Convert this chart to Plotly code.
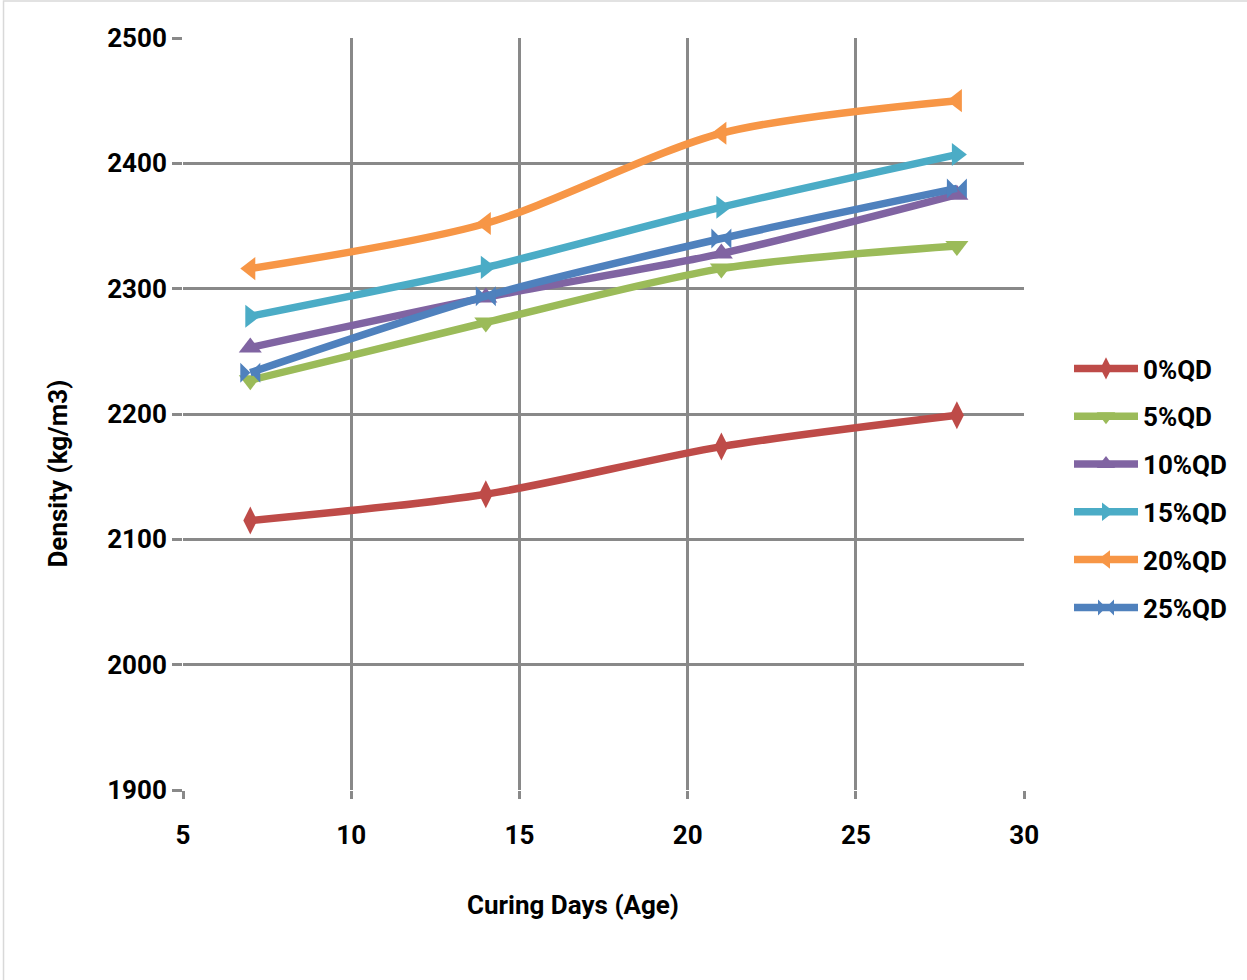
import plotly.graph_objects as go

days = [7, 14, 21, 28]
series_names = ["0%QD", "5%QD", "10%QD", "15%QD", "20%QD", "25%QD"]
qd0 = [2115, 2136, 2174, 2199]
qd5 = [2227, 2273, 2316, 2334]
qd10 = [2253, 2293, 2328, 2375]
qd15 = [2278, 2317, 2365, 2407]
qd20 = [2316, 2352, 2424, 2450]
qd25 = [2233, 2294, 2340, 2380]
x_ticks = [5, 10, 15, 20, 25, 30]
y_ticks = [1900, 2000, 2100, 2200, 2300, 2400, 2500]
x_title = "Curing Days (Age)"
y_title = "Density (kg/m3)"

values = [qd0, qd5, qd10, qd15, qd20, qd25]
colors = ["#BE4B48", "#9BBB59", "#8064A2", "#4BACC6", "#F79646", "#4F81BD"]
symbols = ["diamond-tall", "triangle-down", "triangle-up", "triangle-right", "triangle-left", "bowtie"]

FONT = "Roboto, DejaVu Sans, sans-serif"
FS = 26
tfont = dict(family=FONT, size=FS, color="black", weight="bold")

fig = go.Figure()
for name, vals, c, s in zip(series_names, values, colors, symbols):
    fig.add_trace(go.Scatter(
        x=days, y=vals, name=name, legendgroup=name, mode="lines+markers",
        line=dict(color=c, width=7.5, shape="spline", smoothing=0.8),
        marker=dict(symbol=s, size=20, color=c),
    ))

KX = 1.0145  # horizontal compensation for the capture
W, H = 1265, 980
L, T, B = 183, 38, 190
PLOT_R = 1036
paper_w = W - L          # right margin 0, axis domain limited instead
ph = H - T - B
dom_end = (PLOT_R - L) / paper_w


def px_x(p):
    return (p * KX - L) / paper_w


def px_y(p):
    return (H - B - p) / ph


gray = "#898989"
fig.update_layout(
    width=W, height=H, autosize=False,
    margin=dict(l=L, r=0, t=T, b=B),
    paper_bgcolor="white", plot_bgcolor="white",
    font=tfont,
    showlegend=True,
    legend=dict(x=px_x(1066), y=px_y(488), xanchor="left", yanchor="middle",
                font=tfont, itemwidth=64, tracegroupgap=11, traceorder="grouped",
                bgcolor="rgba(0,0,0,0)"),
    xaxis=dict(domain=[0, dom_end], range=[5, 30], tickvals=x_ticks, showgrid=True,
               gridcolor=gray, gridwidth=2.5,
               zeroline=False, showline=False, ticks="outside", ticklen=8, tickwidth=2.5, tickcolor=gray,
               ticklabelstandoff=14, tickfont=tfont),
    yaxis=dict(range=[1900, 2500], tickvals=y_ticks, showgrid=True, gridcolor=gray, gridwidth=2.5,
               zeroline=False, showline=False, ticks="outside", ticklen=10, tickwidth=2.5, tickcolor=gray,
               tickfont=tfont),
    annotations=[
        dict(text=x_title, xref="paper", yref="paper", x=px_x(570), y=px_y(905),
             xanchor="center", yanchor="middle", showarrow=False, font=tfont),
        dict(text=y_title, xref="paper", yref="paper", x=px_x(55), y=px_y(474),
             xanchor="center", yanchor="middle", showarrow=False, textangle=-90, font=tfont),
    ],
    shapes=[dict(type="rect", xref="paper", yref="paper",
                 x0=(1 - L) / paper_w, x1=px_x(W + 40), y0=px_y(H + 20), y1=px_y(1),
                 line=dict(color="#D9D9D9", width=1.5), layer="below")],
)

fig.write_html("out.html", config={"responsive": False})
